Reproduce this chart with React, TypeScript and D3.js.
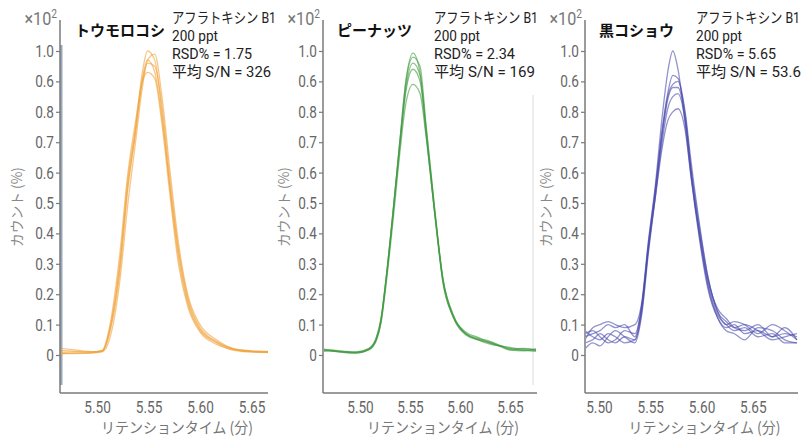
import React, { useRef, useEffect } from 'react';
import * as d3 from 'd3';

const W = 809;
const H = 439;

// y ticks (the source chart labels 0.9 as "0.6")
const yTickValues = [0, 0.1, 0.2, 0.3, 0.4, 0.5, 0.6, 0.7, 0.8, 0.9, 1.0];
const yTickLabels = ['0', '0.1', '0.2', '0.3', '0.4', '0.5', '0.6', '0.7', '0.8', '0.6', '1.0'];
const xTickValues = [5.5, 5.55, 5.6, 5.65];
const compoundLines = ['アフラトキシン B1', '200 ppt'];

// トウモロコシ
const cornTimes = [5.464, 5.48, 5.495, 5.505, 5.512, 5.522, 5.53, 5.537, 5.544, 5.549, 5.556, 5.563, 5.571, 5.579, 5.588, 5.6, 5.616, 5.632, 5.65, 5.666];
const cornRuns = [
  [0.005, 0.006, 0.008, 0.012, 0.08, 0.3, 0.58, 0.74, 0.93, 1.0, 0.97, 0.8, 0.54, 0.32, 0.17, 0.08, 0.04, 0.016, 0.01, 0.01],
  [0.015, 0.012, 0.01, 0.014, 0.07, 0.27, 0.55, 0.72, 0.9, 0.96, 0.95, 0.82, 0.57, 0.35, 0.19, 0.09, 0.045, 0.02, 0.012, 0.01],
  [0.008, 0.01, 0.009, 0.015, 0.09, 0.33, 0.6, 0.76, 0.9, 0.93, 0.91, 0.76, 0.52, 0.3, 0.16, 0.075, 0.035, 0.018, 0.012, 0.008],
  [0.004, 0.005, 0.006, 0.01, 0.05, 0.24, 0.5, 0.69, 0.88, 0.97, 0.99, 0.85, 0.6, 0.37, 0.2, 0.1, 0.05, 0.022, 0.014, 0.012],
  [0.022, 0.016, 0.011, 0.013, 0.075, 0.29, 0.56, 0.73, 0.91, 0.97, 0.93, 0.78, 0.55, 0.34, 0.18, 0.085, 0.042, 0.02, 0.01, 0.009],
];
const cornStats = ['RSD% = 1.75', '平均 S/N = 326'];

// ピーナッツ
const peanutTimes = [5.463, 5.473, 5.485, 5.496, 5.509, 5.516, 5.521, 5.526, 5.533, 5.54, 5.546, 5.553, 5.56, 5.566, 5.575, 5.583, 5.593, 5.606, 5.618, 5.63, 5.64, 5.65, 5.663, 5.676];
const peanutRuns = [
  [0.016, 0.013, 0.008, 0.006, 0.02, 0.05, 0.115, 0.246, 0.467, 0.707, 0.905, 0.993, 0.928, 0.74, 0.454, 0.237, 0.125, 0.066, 0.05, 0.039, 0.028, 0.016, 0.02, 0.016],
  [0.02, 0.015, 0.01, 0.008, 0.018, 0.045, 0.11, 0.24, 0.46, 0.69, 0.88, 0.96, 0.92, 0.75, 0.47, 0.25, 0.135, 0.07, 0.055, 0.045, 0.032, 0.022, 0.015, 0.02],
  [0.012, 0.016, 0.012, 0.01, 0.022, 0.055, 0.12, 0.25, 0.47, 0.7, 0.87, 0.94, 0.9, 0.73, 0.46, 0.245, 0.13, 0.075, 0.058, 0.04, 0.03, 0.025, 0.018, 0.012],
  [0.018, 0.014, 0.009, 0.007, 0.017, 0.048, 0.105, 0.23, 0.44, 0.67, 0.83, 0.89, 0.86, 0.72, 0.46, 0.25, 0.13, 0.07, 0.05, 0.036, 0.03, 0.02, 0.022, 0.018],
  [0.014, 0.012, 0.01, 0.009, 0.02, 0.052, 0.118, 0.25, 0.47, 0.71, 0.9, 0.98, 0.95, 0.76, 0.47, 0.24, 0.128, 0.068, 0.052, 0.042, 0.03, 0.018, 0.014, 0.015],
];
const peanutStats = ['RSD% = 2.34', '平均 S/N = 169'];

// 黒コショウ
const pepperTimes = [5.4864, 5.494, 5.501, 5.509, 5.516, 5.525, 5.535, 5.542, 5.548, 5.555, 5.5615, 5.567, 5.572, 5.577, 5.584, 5.59, 5.598, 5.606, 5.616, 5.624, 5.632, 5.642, 5.655, 5.669, 5.681, 5.693];
const pepperRuns = [
  [0.06, 0.07, 0.08, 0.1, 0.09, 0.1, 0.06, 0.17, 0.36, 0.56, 0.78, 0.93, 1.0, 0.94, 0.76, 0.58, 0.38, 0.22, 0.12, 0.09, 0.1, 0.07, 0.08, 0.06, 0.09, 0.05],
  [0.08, 0.06, 0.05, 0.07, 0.06, 0.04, 0.05, 0.16, 0.35, 0.54, 0.73, 0.85, 0.89, 0.9, 0.79, 0.6, 0.4, 0.24, 0.13, 0.1, 0.08, 0.09, 0.06, 0.07, 0.04, 0.04],
  [0.04, 0.05, 0.07, 0.05, 0.04, 0.06, 0.05, 0.15, 0.34, 0.53, 0.72, 0.84, 0.88, 0.88, 0.78, 0.61, 0.42, 0.26, 0.14, 0.11, 0.09, 0.1, 0.08, 0.05, 0.06, 0.07],
  [0.02, 0.04, 0.03, 0.06, 0.08, 0.06, 0.04, 0.14, 0.33, 0.52, 0.7, 0.81, 0.85, 0.86, 0.77, 0.59, 0.39, 0.23, 0.12, 0.08, 0.07, 0.05, 0.09, 0.08, 0.05, 0.04],
  [0.07, 0.08, 0.06, 0.04, 0.05, 0.08, 0.07, 0.17, 0.35, 0.52, 0.68, 0.77, 0.8, 0.81, 0.74, 0.58, 0.4, 0.25, 0.15, 0.12, 0.09, 0.08, 0.1, 0.06, 0.07, 0.06],
  [0.05, 0.09, 0.1, 0.11, 0.1, 0.09, 0.1, 0.18, 0.37, 0.55, 0.74, 0.86, 0.92, 0.91, 0.8, 0.63, 0.43, 0.26, 0.14, 0.1, 0.11, 0.1, 0.07, 0.1, 0.08, 0.05],
];
const pepperStats = ['RSD% = 5.65', '平均 S/N = 53.6'];

const numFont = "Roboto, 'Noto Sans CJK JP', sans-serif";
const jpFont = "'Noto Sans CJK JP', sans-serif";
const narrow = 0.8;

const panels = [
  { title: 'トウモロコシ', color: '#f0a238', times: cornTimes, runs: cornRuns, stats: cornStats,
    left: 60, right: 268, domain: [5.464, 5.666], titleX: 75, textX: 172, yLabelX: 22,
    textWidths: [104, 46, 80, 99] },
  { title: 'ピーナッツ', color: '#3f9a3f', times: peanutTimes, runs: peanutRuns, stats: peanutStats,
    left: 323, right: 537, domain: [5.463, 5.677], titleX: 337, textX: 434, yLabelX: 289,
    textWidths: [104, 46, 81, 101] },
  { title: '黒コショウ', color: '#4a4aae', times: pepperTimes, runs: pepperRuns, stats: pepperStats,
    left: 585, right: 798, domain: [5.4864, 5.694], titleX: 599, textX: 696, yLabelX: 551,
    textWidths: [104, 46, 80, 105] },
];

const App = () => {
  const ref = useRef<SVGSVGElement>(null);

  useEffect(() => {
    if (!ref.current) return;
    const svg = d3.select(ref.current);
    svg.selectAll('*').remove();

    const y = d3.scaleLinear().domain([0, 1]).range([355, 51]);
    const axisTop = 20;
    const axisBottom = 393;

    panels.forEach((p, pi) => {
      const x = d3.scaleLinear().domain(p.domain).range([p.left, p.right]);
      const g = svg.append('g');

      // faint edges of the pasted chromatogram
      if (pi === 0) {
        g.append('rect').attr('x', p.left).attr('y', 45).attr('width', 2.5).attr('height', 340).attr('fill', '#9aa8bc');
      }
      if (pi === 1) {
        g.append('line').attr('x1', 533).attr('x2', 533).attr('y1', 95).attr('y2', 385)
          .attr('stroke', '#dcdcdc').attr('stroke-width', 1);
      }

      // traces
      const clipId = `clip-${pi}`;
      svg.append('clipPath').attr('id', clipId).append('rect')
        .attr('x', p.left + 1).attr('y', axisTop).attr('width', p.right - p.left - 1).attr('height', axisBottom - axisTop - 4);

      const line = d3.line<number>()
        .x((_, i) => x(p.times[i]))
        .y(d => y(d))
        .curve(d3.curveMonotoneX);

      g.append('g').attr('clip-path', `url(#${clipId})`)
        .selectAll('path')
        .data(p.runs)
        .enter()
        .append('path')
        .attr('d', d => line(d))
        .attr('fill', 'none')
        .attr('stroke', p.color)
        .attr('stroke-width', 1.3)
        .attr('stroke-opacity', 0.6);

      // y axis
      g.append('line').attr('x1', p.left).attr('x2', p.left).attr('y1', axisTop).attr('y2', axisBottom)
        .attr('stroke', '#7a7a7a').attr('stroke-width', 1.5);
      const yAxis = g.append('g').attr('transform', `translate(${p.left},0)`)
        .call(d3.axisLeft(y).tickValues(yTickValues).tickSize(4).tickPadding(3)
          .tickFormat((_, i) => yTickLabels[i]));
      yAxis.select('.domain').remove();
      yAxis.selectAll('line').attr('stroke', '#7a7a7a').attr('stroke-width', 1.2);
      yAxis.selectAll('text').attr('fill', '#666').attr('x', -6 / narrow)
        .attr('transform', `scale(${narrow},1)`)
        .style('font-family', numFont).style('font-size', '17px');

      // x axis
      g.append('line').attr('x1', p.left).attr('x2', p.right).attr('y1', axisBottom).attr('y2', axisBottom)
        .attr('stroke', '#7a7a7a').attr('stroke-width', 1.5);
      const xAxis = g.append('g').attr('transform', `translate(0,${axisBottom})`)
        .call(d3.axisBottom(x).tickValues(xTickValues).tickSize(0).tickPadding(8)
          .tickFormat(d3.format('.2f')));
      xAxis.select('.domain').remove();
      xAxis.selectAll('text').attr('fill', '#666').attr('transform', `scale(${narrow},1)`)
        .style('font-family', numFont).style('font-size', '17px');

      // axis titles
      g.append('text').attr('x', (p.left + p.right) / 2 + 13).attr('y', 433).attr('text-anchor', 'middle')
        .attr('textLength', 152).attr('lengthAdjust', 'spacingAndGlyphs')
        .attr('fill', '#777').style('font-family', jpFont).style('font-size', '15px').text('リテンションタイム (分)');
      g.append('text').attr('transform', `translate(${p.yLabelX},207) rotate(-90)`).attr('text-anchor', 'middle')
        .attr('textLength', 80).attr('lengthAdjust', 'spacingAndGlyphs')
        .attr('fill', '#888').style('font-family', jpFont).style('font-size', '14px').text('カウント (%)');

      // ×10^2
      const mult = g.append('text').attr('transform', `translate(${p.left - 3},25) scale(0.85,1)`)
        .attr('text-anchor', 'end')
        .attr('fill', '#777').style('font-family', numFont).style('font-size', '19px');
      mult.append('tspan').text('×10');
      mult.append('tspan').attr('dy', -7).style('font-size', '12px').text('2');

      // sample title
      g.append('text').attr('x', p.titleX).attr('y', 36).attr('fill', '#111')
        .style('font-family', jpFont).style('font-weight', 700).style('font-size', '15px').text(p.title);

      // annotation
      const lines = [...compoundLines, ...p.stats];
      g.selectAll('text.anno').data(lines).enter().append('text').attr('class', 'anno')
        .attr('x', p.textX).attr('y', (_, i) => 23 + i * 18).attr('fill', '#222')
        .attr('textLength', (_, i) => p.textWidths[i]).attr('lengthAdjust', 'spacingAndGlyphs')
        .style('font-family', numFont).style('font-size', '15px').text(d => d);
    });
  }, []);

  return (
    <div>
      <svg ref={ref} width={W} height={H} style={{ position: 'absolute', left: 0, top: 0, background: '#fff' }} />
    </div>
  );
};

export default App;
